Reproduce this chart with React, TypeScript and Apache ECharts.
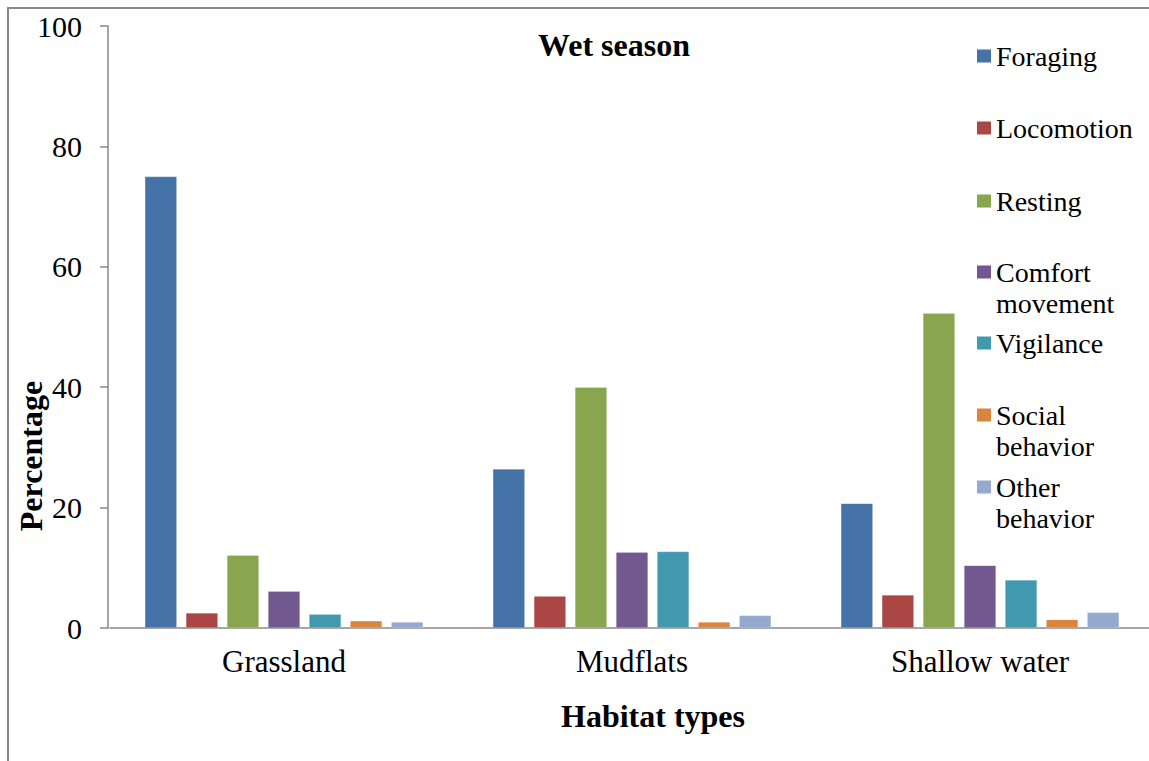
import React, { useEffect, useRef } from "react";
import * as echarts from "echarts";

const categories = ["Grassland", "Mudflats", "Shallow water"];
const seriesNames = [
  "Foraging",
  "Locomotion",
  "Resting",
  "Comfort movement",
  "Vigilance",
  "Social behavior",
  "Other behavior",
];
const foraging = [75, 26.4, 20.7];
const locomotion = [2.5, 5.3, 5.5];
const resting = [12.1, 40.0, 52.3];
const comfort = [6.1, 12.6, 10.4];
const vigilance = [2.3, 12.7, 8.0];
const social = [1.2, 1.0, 1.4];
const other = [1.0, 2.1, 2.6];
const colors = ["#4572A7", "#AA4643", "#89A54E", "#71588F", "#4198AF", "#DB843D", "#93A9CF"];
const legendLabels = [
  "Foraging",
  "Locomotion",
  "Resting",
  "\nComfort\nmovement",
  "Vigilance",
  "\nSocial\nbehavior",
  "\nOther\nbehavior",
];
const legendCenters = [56, 128, 201, 272, 343, 415, 487];

const FONT = "'Liberation Serif', 'Times New Roman', serif";

export default function App() {
  const ref = useRef<HTMLDivElement>(null);
  useEffect(() => {
    if (!ref.current) return;
    const chart = echarts.init(ref.current, undefined, { renderer: "svg" });
    const values = [foraging, locomotion, resting, comfort, vigilance, social, other];
    const legends = seriesNames.map((name, i) => {
      const multi = legendLabels[i].startsWith("\n");
      return {
        data: [name],
        left: 977,
        top: legendCenters[i] - (multi ? 46.5 : 15.5),
        orient: "vertical",
        padding: 0,
        itemGap: 0,
        itemWidth: 14,
        itemHeight: 13,
        icon: "rect",
        itemStyle: { borderWidth: 0 },
        formatter: () => legendLabels[i],
        textStyle: { fontFamily: FONT, fontSize: 28, lineHeight: 31, color: "#000" },
      };
    });
    chart.setOption({
      animation: false,
      color: colors,
      title: {
        text: "Wet season",
        left: 538,
        top: 29,
        padding: 0,
        textStyle: { fontFamily: FONT, fontSize: 32, fontWeight: "bold", color: "#000" },
      },
      legend: legends,
      grid: { left: 110, right: 0, top: 26, bottom: 133, containLabel: false },
      xAxis: {
        type: "category",
        data: categories,
        axisLine: { lineStyle: { color: "#888", width: 1.5 } },
        axisTick: { length: 9, lineStyle: { color: "#888", width: 1.5 } },
        axisLabel: { fontFamily: FONT, fontSize: 31, color: "#000", margin: 18 },
      },
      yAxis: {
        type: "value",
        min: 0,
        max: 100,
        interval: 20,
        offset: 2,
        splitLine: { show: false },
        axisLine: { show: true, lineStyle: { color: "#888", width: 1.5 } },
        axisTick: { show: true, length: 8, lineStyle: { color: "#888", width: 1.5 } },
        axisLabel: { fontFamily: FONT, fontSize: 30, color: "#000", margin: 26 },
      },
      series: seriesNames.map((name, i) => ({
        name,
        type: "bar",
        data: values[i],
        barGap: "28%",
        barCategoryGap: "20%",
        itemStyle: { color: colors[i], borderColor: "rgba(255,255,255,0.35)", borderWidth: 0.6 },
      })),
      graphic: [
        {
          type: "rect",
          silent: true,
          z: -10,
          shape: { x: 8, y: 8, width: 3000, height: 3000 },
          style: { fill: "none", stroke: "#888", lineWidth: 2 },
        },
        {
          type: "text",
          x: 653,
          y: 716,
          style: {
            text: "Habitat types",
            font: `bold 32px ${FONT}`,
            fill: "#000",
            align: "center",
            verticalAlign: "middle",
          },
        },
        {
          type: "text",
          x: 31,
          y: 456,
          rotation: Math.PI / 2,
          style: {
            text: "Percentage",
            font: `bold 32px ${FONT}`,
            fill: "#000",
            align: "center",
            verticalAlign: "middle",
          },
        },
      ],
    });
    return () => chart.dispose();
  }, []);
  return (
    <div
      ref={ref}
      style={{ position: "fixed", left: 0, top: 0, width: 1154, height: 761, background: "#fff" }}
    />
  );
}
